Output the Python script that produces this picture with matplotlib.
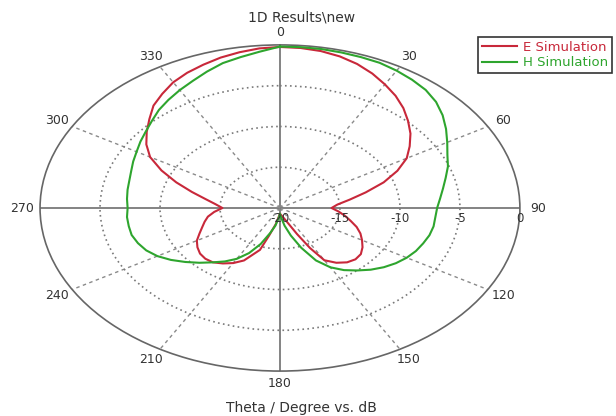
import numpy as np
import matplotlib
matplotlib.use("Agg")
import matplotlib.pyplot as plt
from matplotlib.transforms import offset_copy

# pattern: theta in degrees, gain in dB
e_theta = [0, 5, 10, 15, 20, 25, 30, 35, 40, 45, 50, 55, 60, 65, 70, 75, 80, 85, 90,
           95, 100, 105, 110, 115, 120, 125, 130, 135, 140, 145, 150, 153, 156, 160,
           170, 180, 190, 195, 198, 205, 210, 215, 220, 225, 230, 235, 240, 245, 250,
           255, 260, 265, 270, 275, 280, 285, 290, 295, 300, 305, 310, 315, 320, 325,
           330, 335, 340, 345, 350, 355, 360]
e_db = [-0.25, -0.3, -0.45, -0.75, -1.2, -1.8, -2.5, -3.2, -4.0, -4.9, -5.8, -6.8,
        -7.8, -9.2, -10.8, -12.6, -14.1, -15.2, -15.7, -15.1, -14.5, -13.9, -13.2,
        -12.6, -12.1, -11.6, -11.2, -11.1, -11.3, -11.8, -12.6, -14.5, -16.5, -18.0,
        -19.0, -19.3, -18.0, -16.5, -14.6, -12.9, -12.2, -11.7, -11.3, -11.2, -11.3,
        -11.6, -12.0, -12.6, -13.1, -13.5, -13.9, -14.5, -15.2, -14.6, -13.7, -12.4,
        -10.8, -9.1, -7.5, -6.4, -5.5, -4.6, -3.6, -2.9, -2.2, -1.7, -1.3, -0.9,
        -0.6, -0.35, -0.25]

h_theta = list(range(0, 365, 5))
h_db = [-0.2, -0.2, -0.2, -0.25, -0.3, -0.35, -0.55, -0.8, -1.1, -1.6, -2.3, -3.1,
        -3.9, -4.6, -5.1, -5.7, -6.2, -6.6, -6.9, -7.0, -7.0, -7.1, -7.3, -7.5, -7.8,
        -8.2, -8.7, -9.3, -10.0, -10.7, -11.6, -12.9, -14.8, -16.5, -17.8, -18.8,
        -19.3, -18.8, -17.8, -16.8, -15.3, -13.9, -12.8, -12.0, -11.3, -10.5, -9.7,
        -8.9, -8.2, -7.7, -7.4, -7.2, -7.2, -7.2, -7.3, -7.2, -7.1, -7.0, -6.8, -6.5,
        -6.2, -5.8, -5.4, -4.9, -4.3, -3.8, -3.3, -2.8, -2.2, -1.6, -1.2, -0.75, -0.2]

angle_ticks = list(range(0, 360, 30))
r_ticks = [-20, -15, -10, -5, 0]

red = "#c8283a"
green = "#2ea52e"
txt = "#333333"

fig = plt.figure(figsize=(6.16, 4.16), dpi=100)
ax = fig.add_axes([0.065, 0.108, 0.779, 0.784], projection="polar")
ax.set_aspect("auto")
ax.set_theta_zero_location("N")
ax.set_theta_direction(-1)
ax.set_rlim(-20, 0)

ax.plot(np.deg2rad(e_theta), e_db, color=red, lw=1.5, label="E Simulation", zorder=3)
ax.plot(np.deg2rad(h_theta), h_db, color=green, lw=1.5, label="H Simulation", zorder=3)

# spokes: cardinal ones solid, the rest dashed
ax.xaxis.grid(False)
for a in angle_ticks:
    if a % 90 == 0:
        ax.axvline(np.deg2rad(a), color="#7a7a7a", lw=1.3, zorder=1)
    else:
        ax.axvline(np.deg2rad(a), color="#8a8a8a", lw=1, ls=(0, (2.5, 2.5)), zorder=1)
ax.set_xticks(np.deg2rad(angle_ticks))
ax.set_xticklabels([])
for a in angle_ticks:
    ax.text(np.deg2rad(a), 1.5, str(a), ha="center", va="center", fontsize=9,
            color=txt)

# rings
ax.set_yticks(r_ticks[1:-1])
ax.set_yticklabels([])
ax.yaxis.grid(True, color="#7a7a7a", ls=(0, (1, 2)), lw=1.2)
ax.spines["polar"].set_color("#666666")
ax.spines["polar"].set_linewidth(1.2)

below = offset_copy(ax.transData, fig=fig, x=0, y=-10, units="dots")
for r in r_ticks:
    ax.text(np.pi / 2, r, str(r), transform=below, ha="center", va="center",
            fontsize=8.5, color=txt)

fig.text(0.49, 0.957, "1D Results\\new", ha="center", va="center", fontsize=10,
         color=txt)
fig.text(0.49, 0.019, "Theta / Degree vs. dB", ha="center", va="center",
         fontsize=10, color=txt)

leg = fig.legend(loc="upper right", bbox_to_anchor=(0.994, 0.912), fontsize=9.5,
                 frameon=True, fancybox=False, handlelength=2.6, borderpad=0.3,
                 labelspacing=0.2, handletextpad=0.5, borderaxespad=0)
leg.get_frame().set_edgecolor("black")
leg.get_frame().set_linewidth(1.2)
for t, c in zip(leg.get_texts(), [red, green]):
    t.set_color(c)

fig.savefig("out.png", dpi=100)
